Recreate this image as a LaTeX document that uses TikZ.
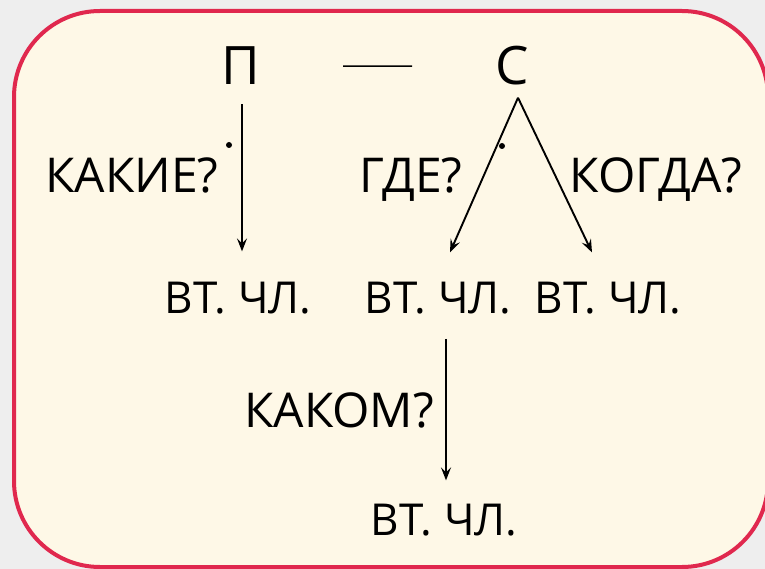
\documentclass[tikz,border=0pt]{standalone}
\usepackage{fontspec}
\setmainfont{Open Sans}
\usepackage{xcolor}
\usetikzlibrary{arrows.meta}
\definecolor{frameRed}{HTML}{E0284E}
\definecolor{frameFill}{HTML}{FEF8E7}
\definecolor{paperGray}{HTML}{EEEEEE}

\begin{document}
\begin{tikzpicture}[x=1pt,y=-1pt,
    word/.style={inner sep=0pt, anchor=base, text=black},
    mainword/.style={word, font=\fontsize{53}{56}\selectfont},
    askword/.style={word, font=\fontsize{48}{52}\selectfont},
    memberword/.style={word, font=\fontsize{44}{48}\selectfont},
    arr/.style={-{Stealth[length=13pt,width=10pt,inset=5pt]}, line width=1.9pt},
    dotmark/.style={circle, fill=black, inner sep=0pt, minimum size=6pt}]
    	\useasboundingbox (0,0) rectangle (765,569);
    	\clip (0,0) rectangle (765,569);
    	\fill[paperGray] (0,0) rectangle (765,569);
    	\draw [line width=4pt, draw=frameRed, fill=frameFill, rounded corners=86pt] (14,11) rectangle (768,567);
    	% subject and predicate
    	\node[mainword] (p) at (241,85) {П};
    	\node[mainword] (s) at (512,85) {С};
    	\draw [line width=1.5pt, shorten <=102pt, shorten >=100pt] (p.center) -- (s.center);
    	% secondary members
    	\node[memberword] (vt1) at (238,313) {ВТ. ЧЛ.};
    	\node[memberword] (vt2) at (438,313) {ВТ. ЧЛ.};
    	\node[memberword] (vt3) at (608,313) {ВТ. ЧЛ.};
    	\node[memberword] (vt4) at (444,535) {ВТ. ЧЛ.};
    	% questions
    	\node[askword] (q1) at (132,193) {КАКИЕ?};
    	\node[askword] (q2) at (411,193) {ГДЕ?};
    	\node[askword] (q3) at (656,193) {КОГДА?};
    	\node[askword] (q4) at (339,427) {КАКОМ?};
    	\node[dotmark] (d1) at (229,145) {};
    	\node[dotmark] (d2) at (502,146) {};
    	% arrows
    	\draw [arr] ([xshift=1pt,yshift=-19pt]p.south) -- ([xshift=4pt,yshift=30pt]vt1.north);
    	\draw [arr] ([xshift=6pt,yshift=-12pt]s.south) -- ([xshift=12pt,yshift=29pt]vt2.north);
    	\draw [arr] ([xshift=6pt,yshift=-12pt]s.south) -- ([xshift=-16pt,yshift=29pt]vt3.north);
    	\draw [arr] ([xshift=8pt,yshift=-25pt]vt2.south) -- ([xshift=2pt,yshift=23pt]vt4.north);
\end{tikzpicture}
\end{document}
